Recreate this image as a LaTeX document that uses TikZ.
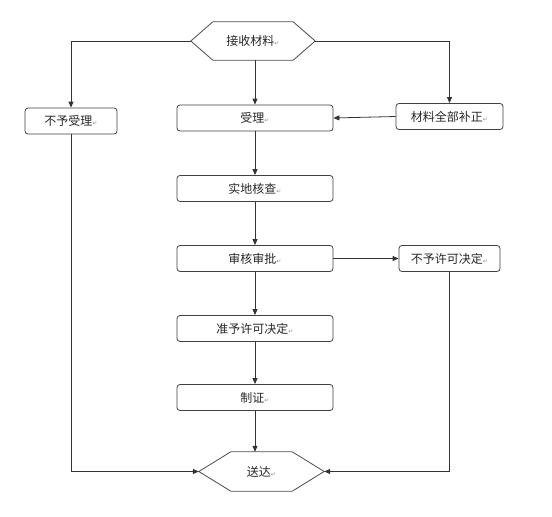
\documentclass[tikz,border=0pt]{standalone}
\usepackage{fontspec}
\newfontfamily\cjk{Noto Sans CJK SC}
\newfontfamily\dejavu{DejaVu Sans}
\usetikzlibrary{arrows.meta,calc}
\newcommand\retmark{{\dejavu\fontsize{6}{6}\selectfont\color{black!45}↵}}
\begin{document}
\begin{tikzpicture}[x=1pt,y=-1pt,
  every node/.style={font=\cjk\fontsize{12}{14}\selectfont, text=black!85},
  box/.style={draw=black!75, line width=0.8pt, rounded corners=3pt, inner sep=0pt, minimum height=26pt},
  hexcore/.style={inner sep=0pt},
  hexline/.style={draw=black!70, line width=0.8pt},
  conn/.style={draw=black!80, line width=0.8pt},
  arr/.style={conn, -{Triangle[length=6pt,width=5pt]}}]
\useasboundingbox (0,0) rectangle (552,517);

% top hexagon
\node[hexcore, minimum width=124pt, minimum height=38pt] (recv) at (253,41) {接收材料\retmark};
\draw[hexline] (recv.west) -- ($(recv.north west)+(22,0)$) -- ($(recv.north east)+(-22,0)$)
  -- (recv.east) -- ($(recv.south east)+(-22,0)$) -- ($(recv.south west)+(22,0)$) -- cycle;

% boxes
\node[box, minimum width=92pt] (nobox) at (71,121) {不予受理\retmark};
\node[box, minimum width=107pt] (corr) at (449.5,116.5) {材料全部补正\retmark};
\node[box, minimum width=156pt] (accept) at (255,118) {受理\retmark};
\node[box, minimum width=156pt] (check) at (255,188.5) {实地核查\retmark};
\node[box, minimum width=156pt] (approve) at (255,258.5) {审核审批\retmark};
\node[box, minimum width=101pt] (deny) at (449.5,258.5) {不予许可决定\retmark};
\node[box, minimum width=156pt] (grant) at (255,328.5) {准予许可决定\retmark};
\node[box, minimum width=156pt] (cert) at (255,397.5) {制证\retmark};

% bottom hexagon
\node[hexcore, minimum width=125pt, minimum height=39pt] (deliver) at (261.5,471.5) {送达\retmark};
\draw[hexline] (deliver.west) -- ($(deliver.north west)+(32,0)$) coordinate (dtl) -- ($(deliver.north east)+(-32,0)$)
  -- (deliver.east) -- ($(deliver.south east)+(-32,0)$) -- ($(deliver.south west)+(32,0)$) -- cycle;

% connectors
\draw[arr] (recv.west) -| (nobox.north);
\draw[arr] (recv.east) -| (corr.north);
\draw[arr] (accept.north |- recv.south) -- (accept.north);
\draw[arr] (corr.west) -- (accept.east);
\draw[arr] (accept.south) -- (check.north);
\draw[arr] (check.south) -- (approve.north);
\draw[arr] (approve.east) -- (deny.west);
\draw[arr] (approve.south) -- (grant.north);
\draw[arr] (grant.south) -- (cert.north);
\draw[arr] (cert.south) -- (cert.south |- dtl);
\draw[arr] (nobox.south) |- (deliver.west);
\draw[arr] (deny.south) |- (deliver.east);
\end{tikzpicture}
\end{document}
